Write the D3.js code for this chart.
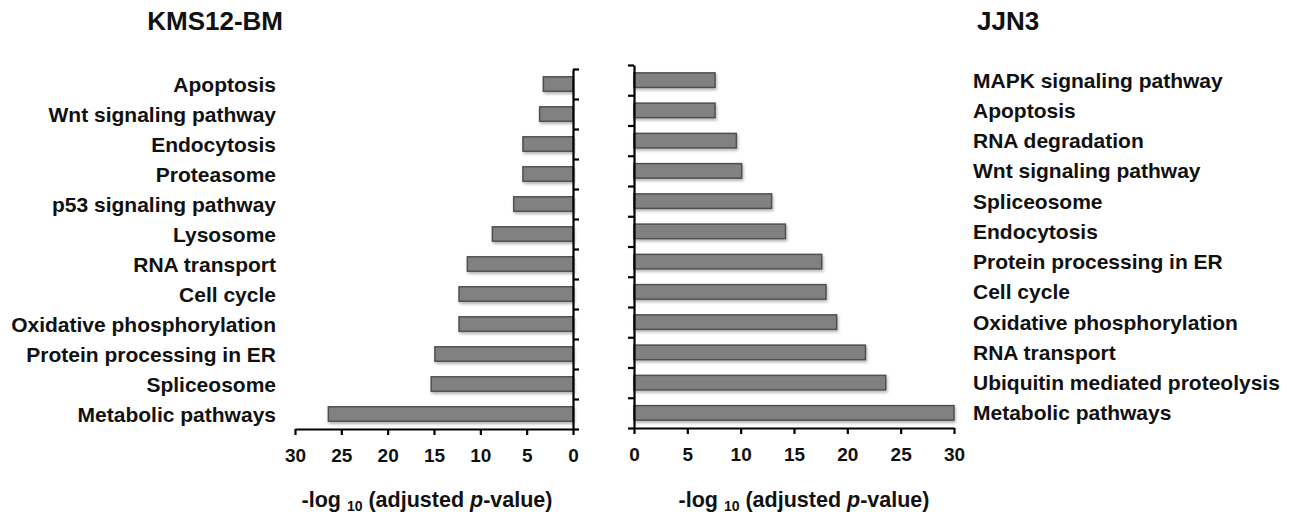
<!DOCTYPE html>
<html><head><meta charset="utf-8">
<script src="https://cdn.jsdelivr.net/npm/d3@7"></script>
<style>
body{margin:0;background:#fff;}
svg{display:block;font-family:"Liberation Sans",Arial,Helvetica,sans-serif;font-weight:bold;}
</style></head>
<body><svg id="c" width="1290" height="516"></svg>
<script>
const leftTitle = "KMS12-BM";
const rightTitle = "JJN3";
const leftCats = ["Apoptosis","Wnt signaling pathway","Endocytosis","Proteasome","p53 signaling pathway","Lysosome","RNA transport","Cell cycle","Oxidative phosphorylation","Protein processing in ER","Spliceosome","Metabolic pathways"];
const leftVals = [3.2,3.6,5.4,5.4,6.4,8.7,11.4,12.3,12.3,14.9,15.3,26.4];
const rightCats = ["MAPK signaling pathway","Apoptosis","RNA degradation","Wnt signaling pathway","Spliceosome","Endocytosis","Protein processing in ER","Cell cycle","Oxidative phosphorylation","RNA transport","Ubiquitin mediated proteolysis","Metabolic pathways"];
const rightVals = [7.6,7.6,9.6,10.1,12.9,14.2,17.6,18.0,19.0,21.7,23.6,30];
const xTicks = [0,5,10,15,20,25,30];

const svg = d3.select("#c");
const defs = svg.append("defs");
const f = defs.append("filter").attr("id","sh").attr("x","-5%").attr("y","-30%").attr("width","110%").attr("height","180%");
f.append("feDropShadow").attr("dx",1).attr("dy",2).attr("stdDeviation",1.5).attr("flood-color","#000").attr("flood-opacity",0.3);

function panel(cats, vals, opt){
  const g = svg.append("g");
  const x = d3.scaleLinear().domain([0,30]).range(opt.xRange);
  const y = d3.scaleBand().domain(cats).range(opt.yRange).paddingInner(0.52).paddingOuter(0.26);
  const edges = d3.scaleLinear().domain([0,cats.length]).range(opt.yRange);
  g.selectAll("rect.bar").data(vals).join("rect").attr("class","bar")
    .attr("x",(d)=>Math.min(x(0),x(d)))
    .attr("width",(d)=>Math.abs(x(d)-x(0)))
    .attr("y",(d,i)=>y(cats[i]))
    .attr("height",y.bandwidth())
    .attr("fill","#818181").attr("stroke","#505050").attr("stroke-width",1.5)
    .attr("filter","url(#sh)");
  const ya = (opt.side==="left"? d3.axisRight(edges) : d3.axisLeft(edges))
     .tickValues(d3.range(cats.length+1)).tickFormat("").tickSize(6).tickSizeOuter(0);
  const yg = g.append("g").attr("transform",`translate(${x(0)},0)`).call(ya);
  const xa = d3.axisBottom(x).tickValues(xTicks).tickSize(6).tickSizeOuter(0).tickPadding(14).tickFormat(d3.format("d"));
  const xg = g.append("g").attr("transform",`translate(0,${opt.yRange[1]})`).call(xa);
  [yg,xg].forEach(a=>{
    a.select(".domain").attr("stroke","#000").attr("stroke-width",2.2);
    a.selectAll(".tick line").attr("stroke","#000").attr("stroke-width",2.2);
  });
  xg.selectAll(".tick text").attr("font-size",19).attr("font-weight","bold").attr("fill","#111")
    .attr("font-family",'"Liberation Sans",Arial,sans-serif');
  g.selectAll("text.cat").data(cats).join("text").attr("class","cat")
    .attr("x",opt.labelX).attr("y",(d)=>y(d)+y.bandwidth()/2)
    .attr("dy","0.36em").attr("text-anchor",opt.side==="left"?"end":"start")
    .attr("font-size",21).attr("fill","#111").text(d=>d);
  g.append("text").attr("x",opt.titleX).attr("y",30).attr("text-anchor",opt.side==="left"?"end":"start")
    .attr("font-size",26).attr("fill","#111").text(opt.title);
  const t = g.append("text").attr("x",opt.labelCenter).attr("y",507)
    .attr("text-anchor","middle").attr("font-size",21.5).attr("fill","#111");
  t.append("tspan").text("-log ");
  t.append("tspan").attr("font-size",14).attr("dy",4).text("10");
  t.append("tspan").attr("dy",-4).text(" (adjusted ");
  t.append("tspan").attr("font-style","italic").text("p");
  t.append("tspan").text("-value)");
}

panel(leftCats, leftVals, {side:"left", xRange:[573,295], yRange:[69,429], labelX:276, titleX:283, title:leftTitle, labelCenter:427});
panel(rightCats, rightVals, {side:"right", xRange:[634,954], yRange:[65,428], labelX:973, titleX:977, title:rightTitle, labelCenter:804});
</script></body></html>
